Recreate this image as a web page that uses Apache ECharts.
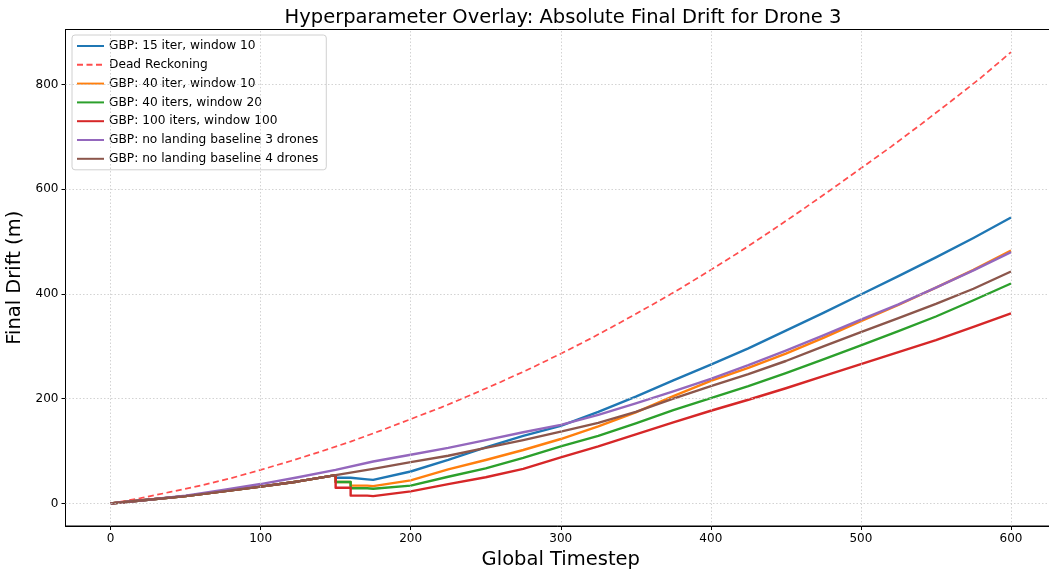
<!DOCTYPE html>
<html>
<head>
<meta charset="utf-8">
<script src="https://cdn.jsdelivr.net/npm/echarts@6/dist/echarts.min.js"></script>
<style>html,body{margin:0;padding:0;background:#fff}#c{width:1049px;height:574px}</style>
</head>
<body>
<div id="c"></div>
<script>
// ---- data ----
const stepsDR   = [0,20,40,60,80,100,120,140,160,180,200,220,240,260,280,300,320,340,360,380,400,420,440,460,480,500,520,540,560,580,600];
const stepsBase = [0,25,50,75,100,125,150,175,200,225,250,275,300,325,350,375,400,425,450,475,500,525,550,575,600];
const stepsDrop = [0,25,50,75,100,125,150,150,160,160,171,171,175,200,225,250,275,300,325,350,375,400,425,450,475,500,525,550,575,600];

const deadReckoning = [0,10,22,34,48,64,81,99,118,139,161,183,207,232,258,286,315,346,378,411,446,482,520,559,599,640,681,724,768,813,862];
const gbp15w10   = [0,7,14,23,32,42,54,49,49,46,46,44,45,61,83,107,129,148,175,204,235,265,296,330,364,399,434,470,507,546];
const gbp40w10   = [0,7,14,23,32,42,54,41,41,34,34,32,33,44,65,83,102,123,147,174,205,234,259,286,316,348,379,412,446,483];
const gbp40w20   = [0,7,14,23,32,42,54,41,41,29,29,27,28,34,51,67,87,109,129,153,178,201,224,249,275,302,329,357,388,420];
const gbp100w100 = [0,7,14,23,32,42,54,30,30,15,15,13,14,23,37,50,66,88,109,132,155,177,198,220,243,266,289,312,337,363];
const noLanding3 = [0,7,15,26,37,50,64,80,93,106,121,136,150,169,191,214,238,264,292,321,351,380,412,445,480];
const noLanding4 = [0,7,14,23,32,42,54,66,79,91,106,121,137,154,175,200,224,247,272,300,327,354,381,410,443];

const xTicks = [0,100,200,300,400,500,600];
const yTicks = [0,200,400,600,800];

const seriesNames = [
  'GBP: 15 iter, window 10',
  'Dead Reckoning',
  'GBP: 40 iter, window 10',
  'GBP: 40 iters, window 20',
  'GBP: 100 iters, window 100',
  'GBP: no landing baseline 3 drones',
  'GBP: no landing baseline 4 drones'
];
const colors = ['#1f77b4','#ff4d4d','#ff7f0e','#2ca02c','#d62728','#9467bd','#8c564b'];

function pairs(xs, ys){ return xs.map((x,i)=>[x, ys[i]]); }

const seriesData = [
  pairs(stepsDrop, gbp15w10),
  pairs(stepsDR, deadReckoning),
  pairs(stepsDrop, gbp40w10),
  pairs(stepsDrop, gbp40w20),
  pairs(stepsDrop, gbp100w100),
  pairs(stepsBase, noLanding3),
  pairs(stepsBase, noLanding4)
];

const font = 'DejaVu Sans';
const chart = echarts.init(document.getElementById('c'), null, {renderer:'canvas'});

const series = seriesData.map((d,i)=>({
  name: seriesNames[i],
  type: 'line',
  data: d,
  symbol: 'none',
  showSymbol: false,
  z: 3,
  animation: false,
  lineStyle: i===1 ? {color: colors[i], width: 1.7, type: [6,3.5]} : {color: colors[i], width: 2.4, join: 'round'},
  itemStyle: {color: colors[i]}
}));

// dotted gridlines
series.unshift({
  type: 'line',
  data: [],
  z: 1,
  silent: true,
  animation: false,
  markLine: {
    silent: true,
    symbol: 'none',
    animation: false,
    label: {show: false},
    lineStyle: {color: '#c8c8c8', width: 0.8, type: [1.5,2]},
    data: xTicks.map(v=>({xAxis: v})).concat(yTicks.map(v=>({yAxis: v})))
  }
});

chart.setOption({
  animation: false,
  backgroundColor: '#fff',
  title: {
    text: 'Hyperparameter Overlay: Absolute Final Drift for Drone 3',
    left: 558, top: 3, textAlign: 'center',
    textStyle: {fontFamily: font, fontSize: 19.5, fontWeight: 'normal', color: '#000'}
  },
  legend: {
    orient: 'vertical',
    left: 72, top: 35,
    data: seriesNames,
    itemWidth: 27, itemHeight: 14, itemGap: 4.8,
    padding: [4, 8, 4, 4],
    itemStyle: {opacity: 0},
    backgroundColor: 'rgba(255,255,255,0.85)',
    borderColor: '#d0d0d0', borderWidth: 1, borderRadius: 3,
    textStyle: {fontFamily: font, fontSize: 12.2, color: '#000', lineHeight: 14}
  },
  grid: {
    left: 65.5, top: 29.5, width: 990.5, height: 496.5,
    outerBoundsMode: 'none', containLabel: false,
    show: true, borderColor: '#000', borderWidth: 1, backgroundColor: 'transparent'
  },
  xAxis: {
    type: 'value', min: -30, max: 630,
    name: 'Global Timestep', nameLocation: 'middle', nameGap: 24,
    nameTextStyle: {fontFamily: font, fontSize: 19.5, color: '#000'},
    axisLine: {show: true, onZero: false, lineStyle: {color: '#000', width: 1}},
    axisTick: {show: true, length: 4, customValues: xTicks, lineStyle: {color: '#000'}},
    axisLabel: {customValues: xTicks, fontFamily: font, fontSize: 12, color: '#000', margin: 7},
    splitLine: {show: false}
  },
  yAxis: {
    type: 'value', min: -43.1, max: 905.1,
    name: 'Final Drift (m)', nameLocation: 'middle', nameGap: 37, nameRotate: 90,
    nameTextStyle: {fontFamily: font, fontSize: 19.5, color: '#000'},
    axisLine: {show: true, onZero: false, lineStyle: {color: '#000', width: 1}},
    axisTick: {show: true, length: 4, customValues: yTicks, lineStyle: {color: '#000'}},
    axisLabel: {customValues: yTicks, fontFamily: font, fontSize: 12, color: '#000', margin: 7},
    splitLine: {show: false}
  },
  series: series
});
</script>
</body>
</html>
